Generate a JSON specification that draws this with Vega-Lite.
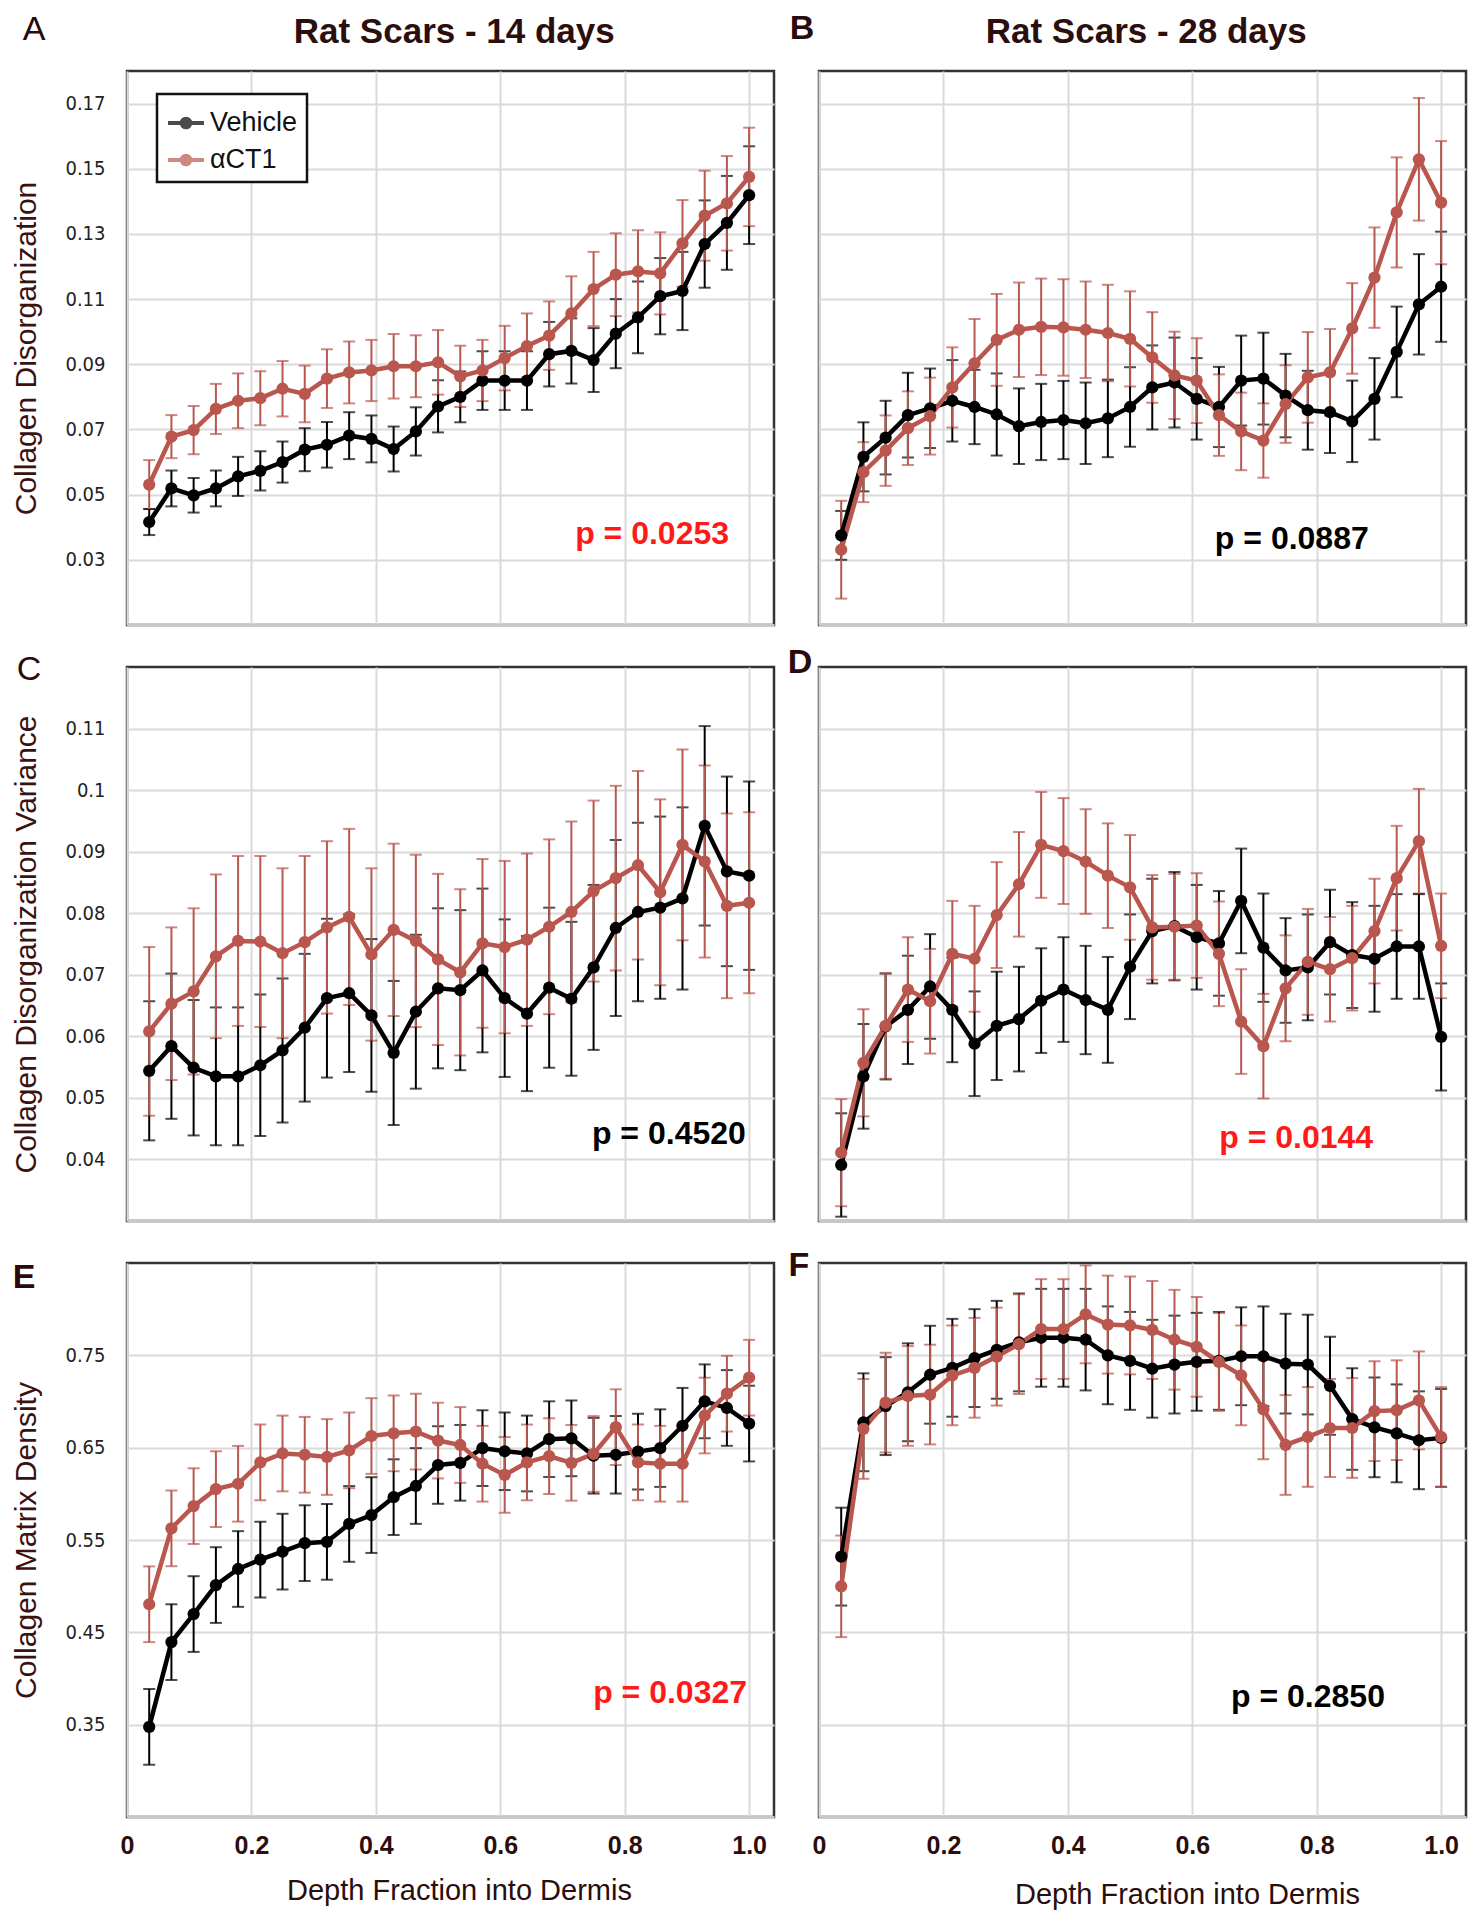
{
"$schema":"https://vega.github.io/schema/vega-lite/v6.json",
"background":"white",
"padding":{"left":10,"top":10,"right":5,"bottom":5},
"datasets":{
"A":[
{"d":0.0357,"g":"Vehicle","y":0.0416,"e":0.004},{"d":0.0714,"g":"Vehicle","y":0.0519,"e":0.0055},{"d":0.1071,"g":"Vehicle","y":0.0498,"e":0.0053},{"d":0.1429,"g":"Vehicle","y":0.0519,"e":0.0055},{"d":0.1786,"g":"Vehicle","y":0.0556,"e":0.006},{"d":0.2143,"g":"Vehicle","y":0.0573,"e":0.006},{"d":0.25,"g":"Vehicle","y":0.06,"e":0.0063},{"d":0.2857,"g":"Vehicle","y":0.0638,"e":0.0066},{"d":0.3214,"g":"Vehicle","y":0.0653,"e":0.007},{"d":0.3571,"g":"Vehicle","y":0.0681,"e":0.0072},{"d":0.3929,"g":"Vehicle","y":0.0671,"e":0.0072},{"d":0.4286,"g":"Vehicle","y":0.064,"e":0.0069},{"d":0.4643,"g":"Vehicle","y":0.0694,"e":0.0074},{"d":0.5,"g":"Vehicle","y":0.0771,"e":0.008},{"d":0.5357,"g":"Vehicle","y":0.08,"e":0.0078},{"d":0.5714,"g":"Vehicle","y":0.085,"e":0.009},{"d":0.6071,"g":"Vehicle","y":0.085,"e":0.009},{"d":0.6429,"g":"Vehicle","y":0.085,"e":0.009},{"d":0.6786,"g":"Vehicle","y":0.0931,"e":0.0099},{"d":0.7143,"g":"Vehicle","y":0.0941,"e":0.01},{"d":0.75,"g":"Vehicle","y":0.0913,"e":0.0098},{"d":0.7857,"g":"Vehicle","y":0.0994,"e":0.0106},{"d":0.8214,"g":"Vehicle","y":0.1044,"e":0.011},{"d":0.8571,"g":"Vehicle","y":0.1109,"e":0.0117},{"d":0.8929,"g":"Vehicle","y":0.1125,"e":0.012},{"d":0.9286,"g":"Vehicle","y":0.1269,"e":0.0134},{"d":0.9643,"g":"Vehicle","y":0.1334,"e":0.0144},{"d":1,"g":"Vehicle","y":0.1419,"e":0.015},
{"d":0.0357,"g":"αCT1","y":0.0531,"e":0.0075},{"d":0.0714,"g":"αCT1","y":0.0678,"e":0.0066},{"d":0.1071,"g":"αCT1","y":0.0698,"e":0.0074},{"d":0.1429,"g":"αCT1","y":0.0763,"e":0.0077},{"d":0.1786,"g":"αCT1","y":0.0788,"e":0.0084},{"d":0.2143,"g":"αCT1","y":0.0796,"e":0.0083},{"d":0.25,"g":"αCT1","y":0.0825,"e":0.0085},{"d":0.2857,"g":"αCT1","y":0.0809,"e":0.0087},{"d":0.3214,"g":"αCT1","y":0.0856,"e":0.009},{"d":0.3571,"g":"αCT1","y":0.0875,"e":0.0095},{"d":0.3929,"g":"αCT1","y":0.0881,"e":0.0094},{"d":0.4286,"g":"αCT1","y":0.0894,"e":0.0099},{"d":0.4643,"g":"αCT1","y":0.0894,"e":0.0095},{"d":0.5,"g":"αCT1","y":0.0906,"e":0.0099},{"d":0.5357,"g":"αCT1","y":0.0863,"e":0.0094},{"d":0.5714,"g":"αCT1","y":0.0881,"e":0.0094},{"d":0.6071,"g":"αCT1","y":0.0919,"e":0.0099},{"d":0.6429,"g":"αCT1","y":0.0956,"e":0.01},{"d":0.6786,"g":"αCT1","y":0.0988,"e":0.0105},{"d":0.7143,"g":"αCT1","y":0.1056,"e":0.0114},{"d":0.75,"g":"αCT1","y":0.1131,"e":0.0114},{"d":0.7857,"g":"αCT1","y":0.1175,"e":0.0127},{"d":0.8214,"g":"αCT1","y":0.1185,"e":0.0126},{"d":0.8571,"g":"αCT1","y":0.1179,"e":0.0126},{"d":0.8929,"g":"αCT1","y":0.1271,"e":0.0133},{"d":0.9286,"g":"αCT1","y":0.1356,"e":0.0138},{"d":0.9643,"g":"αCT1","y":0.1394,"e":0.0145},{"d":1,"g":"αCT1","y":0.1475,"e":0.0151}
],
"B":[
{"d":0.0357,"g":"Vehicle","y":0.0375,"e":0.0075},{"d":0.0714,"g":"Vehicle","y":0.0616,"e":0.0106},{"d":0.1071,"g":"Vehicle","y":0.0675,"e":0.0113},{"d":0.1429,"g":"Vehicle","y":0.0744,"e":0.013},{"d":0.1786,"g":"Vehicle","y":0.0765,"e":0.0122},{"d":0.2143,"g":"Vehicle","y":0.0788,"e":0.0125},{"d":0.25,"g":"Vehicle","y":0.0769,"e":0.0114},{"d":0.2857,"g":"Vehicle","y":0.0746,"e":0.0126},{"d":0.3214,"g":"Vehicle","y":0.071,"e":0.0116},{"d":0.3571,"g":"Vehicle","y":0.0723,"e":0.0117},{"d":0.3929,"g":"Vehicle","y":0.0729,"e":0.012},{"d":0.4286,"g":"Vehicle","y":0.0719,"e":0.0125},{"d":0.4643,"g":"Vehicle","y":0.0734,"e":0.0119},{"d":0.5,"g":"Vehicle","y":0.0769,"e":0.0122},{"d":0.5357,"g":"Vehicle","y":0.0829,"e":0.0129},{"d":0.5714,"g":"Vehicle","y":0.0844,"e":0.0138},{"d":0.6071,"g":"Vehicle","y":0.0794,"e":0.0125},{"d":0.6429,"g":"Vehicle","y":0.0769,"e":0.0123},{"d":0.6786,"g":"Vehicle","y":0.085,"e":0.0138},{"d":0.7143,"g":"Vehicle","y":0.0856,"e":0.0141},{"d":0.75,"g":"Vehicle","y":0.0804,"e":0.0128},{"d":0.7857,"g":"Vehicle","y":0.0759,"e":0.0121},{"d":0.8214,"g":"Vehicle","y":0.0753,"e":0.0125},{"d":0.8571,"g":"Vehicle","y":0.0725,"e":0.0125},{"d":0.8929,"g":"Vehicle","y":0.0794,"e":0.0125},{"d":0.9286,"g":"Vehicle","y":0.0938,"e":0.0139},{"d":0.9643,"g":"Vehicle","y":0.1084,"e":0.0154},{"d":1,"g":"Vehicle","y":0.1138,"e":0.0169},
{"d":0.0357,"g":"αCT1","y":0.0331,"e":0.015},{"d":0.0714,"g":"αCT1","y":0.0569,"e":0.0092},{"d":0.1071,"g":"αCT1","y":0.0635,"e":0.0108},{"d":0.1429,"g":"αCT1","y":0.0704,"e":0.0113},{"d":0.1786,"g":"αCT1","y":0.0741,"e":0.0118},{"d":0.2143,"g":"αCT1","y":0.0829,"e":0.0123},{"d":0.25,"g":"αCT1","y":0.0903,"e":0.0136},{"d":0.2857,"g":"αCT1","y":0.0975,"e":0.0141},{"d":0.3214,"g":"αCT1","y":0.1006,"e":0.0145},{"d":0.3571,"g":"αCT1","y":0.1015,"e":0.0148},{"d":0.3929,"g":"αCT1","y":0.1013,"e":0.0148},{"d":0.4286,"g":"αCT1","y":0.1006,"e":0.0148},{"d":0.4643,"g":"αCT1","y":0.0996,"e":0.0148},{"d":0.5,"g":"αCT1","y":0.0978,"e":0.0146},{"d":0.5357,"g":"αCT1","y":0.0921,"e":0.0139},{"d":0.5714,"g":"αCT1","y":0.0866,"e":0.0134},{"d":0.6071,"g":"αCT1","y":0.085,"e":0.013},{"d":0.6429,"g":"αCT1","y":0.0744,"e":0.0125},{"d":0.6786,"g":"αCT1","y":0.0694,"e":0.0119},{"d":0.7143,"g":"αCT1","y":0.0666,"e":0.0114},{"d":0.75,"g":"αCT1","y":0.0778,"e":0.0119},{"d":0.7857,"g":"αCT1","y":0.086,"e":0.0139},{"d":0.8214,"g":"αCT1","y":0.0875,"e":0.0133},{"d":0.8571,"g":"αCT1","y":0.101,"e":0.0139},{"d":0.8929,"g":"αCT1","y":0.1166,"e":0.0154},{"d":0.9286,"g":"αCT1","y":0.1366,"e":0.0169},{"d":0.9643,"g":"αCT1","y":0.1529,"e":0.0188},{"d":1,"g":"αCT1","y":0.1396,"e":0.0189}
],
"C":[
{"d":0.0357,"g":"Vehicle","y":0.0544,"e":0.0113},{"d":0.0714,"g":"Vehicle","y":0.0584,"e":0.0118},{"d":0.1071,"g":"Vehicle","y":0.0549,"e":0.011},{"d":0.1429,"g":"Vehicle","y":0.0535,"e":0.0112},{"d":0.1786,"g":"Vehicle","y":0.0535,"e":0.0112},{"d":0.2143,"g":"Vehicle","y":0.0553,"e":0.0115},{"d":0.25,"g":"Vehicle","y":0.0577,"e":0.0117},{"d":0.2857,"g":"Vehicle","y":0.0614,"e":0.012},{"d":0.3214,"g":"Vehicle","y":0.0662,"e":0.0129},{"d":0.3571,"g":"Vehicle","y":0.067,"e":0.0128},{"d":0.3929,"g":"Vehicle","y":0.0634,"e":0.0124},{"d":0.4286,"g":"Vehicle","y":0.0573,"e":0.0117},{"d":0.4643,"g":"Vehicle","y":0.064,"e":0.0125},{"d":0.5,"g":"Vehicle","y":0.0678,"e":0.013},{"d":0.5357,"g":"Vehicle","y":0.0675,"e":0.013},{"d":0.5714,"g":"Vehicle","y":0.0707,"e":0.0133},{"d":0.6071,"g":"Vehicle","y":0.0662,"e":0.0128},{"d":0.6429,"g":"Vehicle","y":0.0637,"e":0.0126},{"d":0.6786,"g":"Vehicle","y":0.0679,"e":0.013},{"d":0.7143,"g":"Vehicle","y":0.0661,"e":0.0125},{"d":0.75,"g":"Vehicle","y":0.0712,"e":0.0134},{"d":0.7857,"g":"Vehicle","y":0.0776,"e":0.0143},{"d":0.8214,"g":"Vehicle","y":0.0802,"e":0.0145},{"d":0.8571,"g":"Vehicle","y":0.0809,"e":0.0148},{"d":0.8929,"g":"Vehicle","y":0.0824,"e":0.0148},{"d":0.9286,"g":"Vehicle","y":0.0942,"e":0.0162},{"d":0.9643,"g":"Vehicle","y":0.0868,"e":0.0154},{"d":1,"g":"Vehicle","y":0.0861,"e":0.0153},
{"d":0.0357,"g":"αCT1","y":0.0608,"e":0.0137},{"d":0.0714,"g":"αCT1","y":0.0653,"e":0.0124},{"d":0.1071,"g":"αCT1","y":0.0673,"e":0.0135},{"d":0.1429,"g":"αCT1","y":0.073,"e":0.0133},{"d":0.1786,"g":"αCT1","y":0.0755,"e":0.0138},{"d":0.2143,"g":"αCT1","y":0.0754,"e":0.0139},{"d":0.25,"g":"αCT1","y":0.0735,"e":0.0138},{"d":0.2857,"g":"αCT1","y":0.0753,"e":0.014},{"d":0.3214,"g":"αCT1","y":0.0777,"e":0.014},{"d":0.3571,"g":"αCT1","y":0.0794,"e":0.0143},{"d":0.3929,"g":"αCT1","y":0.0733,"e":0.014},{"d":0.4286,"g":"αCT1","y":0.0773,"e":0.014},{"d":0.4643,"g":"αCT1","y":0.0755,"e":0.014},{"d":0.5,"g":"αCT1","y":0.0725,"e":0.0139},{"d":0.5357,"g":"αCT1","y":0.0704,"e":0.0135},{"d":0.5714,"g":"αCT1","y":0.0751,"e":0.0137},{"d":0.6071,"g":"αCT1","y":0.0745,"e":0.014},{"d":0.6429,"g":"αCT1","y":0.0757,"e":0.014},{"d":0.6786,"g":"αCT1","y":0.0778,"e":0.0142},{"d":0.7143,"g":"αCT1","y":0.0802,"e":0.0147},{"d":0.75,"g":"αCT1","y":0.0836,"e":0.0147},{"d":0.7857,"g":"αCT1","y":0.0857,"e":0.015},{"d":0.8214,"g":"αCT1","y":0.0878,"e":0.0153},{"d":0.8571,"g":"αCT1","y":0.0834,"e":0.0151},{"d":0.8929,"g":"αCT1","y":0.0911,"e":0.0155},{"d":0.9286,"g":"αCT1","y":0.0884,"e":0.0156},{"d":0.9643,"g":"αCT1","y":0.0812,"e":0.015},{"d":1,"g":"αCT1","y":0.0817,"e":0.0147}
],
"D":[
{"d":0.0357,"g":"Vehicle","y":0.0391,"e":0.0084},{"d":0.0714,"g":"Vehicle","y":0.0535,"e":0.0085},{"d":0.1071,"g":"Vehicle","y":0.0616,"e":0.0086},{"d":0.1429,"g":"Vehicle","y":0.0643,"e":0.0088},{"d":0.1786,"g":"Vehicle","y":0.0681,"e":0.0085},{"d":0.2143,"g":"Vehicle","y":0.0643,"e":0.0085},{"d":0.25,"g":"Vehicle","y":0.0588,"e":0.0085},{"d":0.2857,"g":"Vehicle","y":0.0617,"e":0.0088},{"d":0.3214,"g":"Vehicle","y":0.0628,"e":0.0085},{"d":0.3571,"g":"Vehicle","y":0.0658,"e":0.0085},{"d":0.3929,"g":"Vehicle","y":0.0676,"e":0.0085},{"d":0.4286,"g":"Vehicle","y":0.0659,"e":0.0088},{"d":0.4643,"g":"Vehicle","y":0.0643,"e":0.0086},{"d":0.5,"g":"Vehicle","y":0.0713,"e":0.0085},{"d":0.5357,"g":"Vehicle","y":0.0771,"e":0.0085},{"d":0.5714,"g":"Vehicle","y":0.0779,"e":0.0088},{"d":0.6071,"g":"Vehicle","y":0.0761,"e":0.0085},{"d":0.6429,"g":"Vehicle","y":0.0751,"e":0.0085},{"d":0.6786,"g":"Vehicle","y":0.082,"e":0.0085},{"d":0.7143,"g":"Vehicle","y":0.0744,"e":0.0088},{"d":0.75,"g":"Vehicle","y":0.0707,"e":0.0085},{"d":0.7857,"g":"Vehicle","y":0.0712,"e":0.0086},{"d":0.8214,"g":"Vehicle","y":0.0753,"e":0.0085},{"d":0.8571,"g":"Vehicle","y":0.0732,"e":0.0086},{"d":0.8929,"g":"Vehicle","y":0.0726,"e":0.0086},{"d":0.9286,"g":"Vehicle","y":0.0746,"e":0.0085},{"d":0.9643,"g":"Vehicle","y":0.0746,"e":0.0085},{"d":1,"g":"Vehicle","y":0.0599,"e":0.0087},
{"d":0.0357,"g":"αCT1","y":0.0411,"e":0.0087},{"d":0.0714,"g":"αCT1","y":0.0557,"e":0.0087},{"d":0.1071,"g":"αCT1","y":0.0617,"e":0.0086},{"d":0.1429,"g":"αCT1","y":0.0676,"e":0.0085},{"d":0.1786,"g":"αCT1","y":0.0657,"e":0.0085},{"d":0.2143,"g":"αCT1","y":0.0734,"e":0.0086},{"d":0.25,"g":"αCT1","y":0.0726,"e":0.0086},{"d":0.2857,"g":"αCT1","y":0.0797,"e":0.0086},{"d":0.3214,"g":"αCT1","y":0.0847,"e":0.0085},{"d":0.3571,"g":"αCT1","y":0.0911,"e":0.0086},{"d":0.3929,"g":"αCT1","y":0.0901,"e":0.0086},{"d":0.4286,"g":"αCT1","y":0.0884,"e":0.0085},{"d":0.4643,"g":"αCT1","y":0.0861,"e":0.0085},{"d":0.5,"g":"αCT1","y":0.0842,"e":0.0085},{"d":0.5357,"g":"αCT1","y":0.0777,"e":0.0085},{"d":0.5714,"g":"αCT1","y":0.0778,"e":0.0086},{"d":0.6071,"g":"αCT1","y":0.078,"e":0.0085},{"d":0.6429,"g":"αCT1","y":0.0734,"e":0.0085},{"d":0.6786,"g":"αCT1","y":0.0624,"e":0.0085},{"d":0.7143,"g":"αCT1","y":0.0584,"e":0.0085},{"d":0.75,"g":"αCT1","y":0.0678,"e":0.0086},{"d":0.7857,"g":"αCT1","y":0.0721,"e":0.0086},{"d":0.8214,"g":"αCT1","y":0.0709,"e":0.0085},{"d":0.8571,"g":"αCT1","y":0.0727,"e":0.0085},{"d":0.8929,"g":"αCT1","y":0.0771,"e":0.0085},{"d":0.9286,"g":"αCT1","y":0.0857,"e":0.0085},{"d":0.9643,"g":"αCT1","y":0.0917,"e":0.0085},{"d":1,"g":"αCT1","y":0.0747,"e":0.0085}
],
"E":[
{"d":0.0357,"g":"Vehicle","y":0.3476,"e":0.041},{"d":0.0714,"g":"Vehicle","y":0.4394,"e":0.041},{"d":0.1071,"g":"Vehicle","y":0.4698,"e":0.041},{"d":0.1429,"g":"Vehicle","y":0.5012,"e":0.041},{"d":0.1786,"g":"Vehicle","y":0.5186,"e":0.041},{"d":0.2143,"g":"Vehicle","y":0.5287,"e":0.041},{"d":0.25,"g":"Vehicle","y":0.5374,"e":0.041},{"d":0.2857,"g":"Vehicle","y":0.5466,"e":0.041},{"d":0.3214,"g":"Vehicle","y":0.548,"e":0.041},{"d":0.3571,"g":"Vehicle","y":0.5674,"e":0.041},{"d":0.3929,"g":"Vehicle","y":0.577,"e":0.041},{"d":0.4286,"g":"Vehicle","y":0.5964,"e":0.041},{"d":0.4643,"g":"Vehicle","y":0.6085,"e":0.041},{"d":0.5,"g":"Vehicle","y":0.6312,"e":0.042},{"d":0.5357,"g":"Vehicle","y":0.6336,"e":0.041},{"d":0.5714,"g":"Vehicle","y":0.6495,"e":0.041},{"d":0.6071,"g":"Vehicle","y":0.6461,"e":0.042},{"d":0.6429,"g":"Vehicle","y":0.6437,"e":0.041},{"d":0.6786,"g":"Vehicle","y":0.6592,"e":0.041},{"d":0.7143,"g":"Vehicle","y":0.6601,"e":0.041},{"d":0.75,"g":"Vehicle","y":0.6413,"e":0.041},{"d":0.7857,"g":"Vehicle","y":0.6423,"e":0.042},{"d":0.8214,"g":"Vehicle","y":0.6457,"e":0.041},{"d":0.8571,"g":"Vehicle","y":0.6495,"e":0.042},{"d":0.8929,"g":"Vehicle","y":0.6737,"e":0.041},{"d":0.9286,"g":"Vehicle","y":0.7002,"e":0.04},{"d":0.9643,"g":"Vehicle","y":0.693,"e":0.041},{"d":1,"g":"Vehicle","y":0.6761,"e":0.041},
{"d":0.0357,"g":"αCT1","y":0.4804,"e":0.041},{"d":0.0714,"g":"αCT1","y":0.5626,"e":0.041},{"d":0.1071,"g":"αCT1","y":0.5867,"e":0.041},{"d":0.1429,"g":"αCT1","y":0.6051,"e":0.041},{"d":0.1786,"g":"αCT1","y":0.6109,"e":0.041},{"d":0.2143,"g":"αCT1","y":0.634,"e":0.041},{"d":0.25,"g":"αCT1","y":0.6437,"e":0.041},{"d":0.2857,"g":"αCT1","y":0.6423,"e":0.041},{"d":0.3214,"g":"αCT1","y":0.6399,"e":0.041},{"d":0.3571,"g":"αCT1","y":0.6471,"e":0.041},{"d":0.3929,"g":"αCT1","y":0.6626,"e":0.041},{"d":0.4286,"g":"αCT1","y":0.6655,"e":0.041},{"d":0.4643,"g":"αCT1","y":0.6674,"e":0.041},{"d":0.5,"g":"αCT1","y":0.6577,"e":0.041},{"d":0.5357,"g":"αCT1","y":0.6529,"e":0.041},{"d":0.5714,"g":"αCT1","y":0.6326,"e":0.041},{"d":0.6071,"g":"αCT1","y":0.6205,"e":0.041},{"d":0.6429,"g":"αCT1","y":0.634,"e":0.041},{"d":0.6786,"g":"αCT1","y":0.6408,"e":0.041},{"d":0.7143,"g":"αCT1","y":0.6336,"e":0.041},{"d":0.75,"g":"αCT1","y":0.6432,"e":0.041},{"d":0.7857,"g":"αCT1","y":0.6722,"e":0.041},{"d":0.8214,"g":"αCT1","y":0.634,"e":0.041},{"d":0.8571,"g":"αCT1","y":0.6326,"e":0.041},{"d":0.8929,"g":"αCT1","y":0.6326,"e":0.041},{"d":0.9286,"g":"αCT1","y":0.6848,"e":0.041},{"d":0.9643,"g":"αCT1","y":0.7085,"e":0.041},{"d":1,"g":"αCT1","y":0.7258,"e":0.041}
],
"F":[
{"d":0.0357,"g":"Vehicle","y":0.532,"e":0.053},{"d":0.0714,"g":"Vehicle","y":0.6775,"e":0.053},{"d":0.1071,"g":"Vehicle","y":0.695,"e":0.053},{"d":0.1429,"g":"Vehicle","y":0.71,"e":0.053},{"d":0.1786,"g":"Vehicle","y":0.729,"e":0.053},{"d":0.2143,"g":"Vehicle","y":0.7365,"e":0.053},{"d":0.25,"g":"Vehicle","y":0.747,"e":0.053},{"d":0.2857,"g":"Vehicle","y":0.756,"e":0.053},{"d":0.3214,"g":"Vehicle","y":0.764,"e":0.053},{"d":0.3571,"g":"Vehicle","y":0.769,"e":0.053},{"d":0.3929,"g":"Vehicle","y":0.769,"e":0.053},{"d":0.4286,"g":"Vehicle","y":0.767,"e":0.055},{"d":0.4643,"g":"Vehicle","y":0.75,"e":0.053},{"d":0.5,"g":"Vehicle","y":0.744,"e":0.053},{"d":0.5357,"g":"Vehicle","y":0.7355,"e":0.053},{"d":0.5714,"g":"Vehicle","y":0.74,"e":0.053},{"d":0.6071,"g":"Vehicle","y":0.743,"e":0.053},{"d":0.6429,"g":"Vehicle","y":0.744,"e":0.053},{"d":0.6786,"g":"Vehicle","y":0.749,"e":0.053},{"d":0.7143,"g":"Vehicle","y":0.749,"e":0.054},{"d":0.75,"g":"Vehicle","y":0.741,"e":0.054},{"d":0.7857,"g":"Vehicle","y":0.74,"e":0.054},{"d":0.8214,"g":"Vehicle","y":0.717,"e":0.053},{"d":0.8571,"g":"Vehicle","y":0.681,"e":0.055},{"d":0.8929,"g":"Vehicle","y":0.672,"e":0.054},{"d":0.9286,"g":"Vehicle","y":0.6655,"e":0.053},{"d":0.9643,"g":"Vehicle","y":0.658,"e":0.053},{"d":1,"g":"Vehicle","y":0.6606,"e":0.053},
{"d":0.0357,"g":"αCT1","y":0.4998,"e":0.055},{"d":0.0714,"g":"αCT1","y":0.6703,"e":0.054},{"d":0.1071,"g":"αCT1","y":0.6988,"e":0.054},{"d":0.1429,"g":"αCT1","y":0.706,"e":0.054},{"d":0.1786,"g":"αCT1","y":0.7075,"e":0.054},{"d":0.2143,"g":"αCT1","y":0.7283,"e":0.054},{"d":0.25,"g":"αCT1","y":0.7365,"e":0.054},{"d":0.2857,"g":"αCT1","y":0.7486,"e":0.053},{"d":0.3214,"g":"αCT1","y":0.7621,"e":0.054},{"d":0.3571,"g":"αCT1","y":0.7785,"e":0.054},{"d":0.3929,"g":"αCT1","y":0.7785,"e":0.054},{"d":0.4286,"g":"αCT1","y":0.7944,"e":0.053},{"d":0.4643,"g":"αCT1","y":0.7833,"e":0.053},{"d":0.5,"g":"αCT1","y":0.7824,"e":0.053},{"d":0.5357,"g":"αCT1","y":0.7775,"e":0.053},{"d":0.5714,"g":"αCT1","y":0.7669,"e":0.054},{"d":0.6071,"g":"αCT1","y":0.7592,"e":0.054},{"d":0.6429,"g":"αCT1","y":0.7428,"e":0.053},{"d":0.6786,"g":"αCT1","y":0.7283,"e":0.054},{"d":0.7143,"g":"αCT1","y":0.6915,"e":0.054},{"d":0.75,"g":"αCT1","y":0.6529,"e":0.054},{"d":0.7857,"g":"αCT1","y":0.6616,"e":0.054},{"d":0.8214,"g":"αCT1","y":0.6713,"e":0.053},{"d":0.8571,"g":"αCT1","y":0.6713,"e":0.054},{"d":0.8929,"g":"αCT1","y":0.6896,"e":0.054},{"d":0.9286,"g":"αCT1","y":0.6906,"e":0.054},{"d":0.9643,"g":"αCT1","y":0.7012,"e":0.053},{"d":1,"g":"αCT1","y":0.6616,"e":0.054}
]
},
"columns":2,
"spacing":{"row":42,"column":45},
"bounds":"flush",
"resolve":{"scale":{"color":"independent"},"legend":{"color":"independent"}},
"concat":[
{
"width":647,"height":554,
"encoding":{
"x":{"field":"d","type":"quantitative","scale":{"domain":[0,1.04],"nice":false,"zero":false},"axis":{"values":[0,0.2,0.4,0.6,0.8,1],"labels":false,"title":null,"domain":true,"domainColor":"#c8c8c8","domainWidth":3}},
"y":{"field":"y","type":"quantitative","scale":{"domain":[0.01,0.18],"nice":false,"zero":false},"axis":{"values":[0.03,0.05,0.07,0.09,0.11,0.13,0.15,0.17],"format":".2f","labelFont":"Liberation Sans Narrow, DejaVu Sans Condensed, sans-serif","labelFontSize":20,"labelPadding":22,"title":"Collagen Disorganization","titleFontSize":30,"titlePadding":23}}
},
"layer":[
{"data":{"name":"A"},"mark":{"type":"errorbar","ticks":true,"thickness":2,"size":12},"encoding":{"yError":{"field":"e"},"color":{"field":"g","type":"nominal","scale":{"domain":["Vehicle","αCT1"],"range":["#000000","#b9564d"]},"legend":{"orient":"none","legendX":30,"legendY":23,"title":null,"symbolType":"M-1,0L1,0M0.24,0A0.24,0.24,0,1,1,-0.24,0A0.24,0.24,0,1,1,0.24,0","symbolSize":1296,"symbolStrokeWidth":4,"labelFontSize":27,"labelFont":"Liberation Sans","labelColor":"#111111","labelOffset":4,"strokeColor":"#111111","padding":9,"rowPadding":4,"fillColor":"#ffffff"}}}},
{"data":{"name":"A"},"mark":{"type":"line","strokeWidth":4.5},"encoding":{"color":{"field":"g","type":"nominal","scale":{"domain":["Vehicle","αCT1"],"range":["#000000","#b9564d"]},"legend":{"orient":"none","legendX":30,"legendY":23,"title":null,"symbolType":"M-1,0L1,0M0.24,0A0.24,0.24,0,1,1,-0.24,0A0.24,0.24,0,1,1,0.24,0","symbolSize":1296,"symbolStrokeWidth":4,"labelFontSize":27,"labelFont":"Liberation Sans","labelColor":"#111111","labelOffset":4,"strokeColor":"#111111","padding":9,"rowPadding":4,"fillColor":"#ffffff"}}}},
{"data":{"name":"A"},"mark":{"type":"point","filled":true,"size":150,"opacity":1},"encoding":{"color":{"field":"g","type":"nominal","scale":{"domain":["Vehicle","αCT1"],"range":["#000000","#b9564d"]},"legend":{"orient":"none","legendX":30,"legendY":23,"title":null,"symbolType":"M-1,0L1,0M0.24,0A0.24,0.24,0,1,1,-0.24,0A0.24,0.24,0,1,1,0.24,0","symbolSize":1296,"symbolStrokeWidth":4,"labelFontSize":27,"labelFont":"Liberation Sans","labelColor":"#111111","labelOffset":4,"strokeColor":"#111111","padding":9,"rowPadding":4,"fillColor":"#ffffff"}}}},
{"data":{"values":[{"d":-0.1495,"y":0.1926,"t":"A"}]},"mark":{"type":"text","fontSize":34,"fontWeight":"normal","color":"#2a0a0a","align":"center","baseline":"middle"},"encoding":{"text":{"field":"t"}}},
{"data":{"values":[{"d":0.526,"y":0.192,"t":"Rat Scars - 14 days"}]},"mark":{"type":"text","fontSize":35,"fontWeight":"bold","color":"#2b0f0f","align":"center","baseline":"middle"},"encoding":{"text":{"field":"t"}}},
{"data":{"values":[{"d":0.844,"y":0.0379,"t":"p = 0.0253"}]},"mark":{"type":"text","fontSize":32,"fontWeight":"bold","color":"#ff1a1a","align":"center","baseline":"middle"},"encoding":{"text":{"field":"t"}}}
]
},
{
"width":647,"height":554,
"encoding":{
"x":{"field":"d","type":"quantitative","scale":{"domain":[0,1.04],"nice":false,"zero":false},"axis":{"values":[0,0.2,0.4,0.6,0.8,1],"labels":false,"title":null,"domain":true,"domainColor":"#c8c8c8","domainWidth":3}},
"y":{"field":"y","type":"quantitative","scale":{"domain":[0.01,0.18],"nice":false,"zero":false},"axis":{"values":[0.03,0.05,0.07,0.09,0.11,0.13,0.15,0.17],"labels":false,"title":null}}
},
"layer":[
{"data":{"name":"B"},"mark":{"type":"errorbar","ticks":true,"thickness":2,"size":12},"encoding":{"yError":{"field":"e"},"color":{"field":"g","type":"nominal","scale":{"domain":["Vehicle","αCT1"],"range":["#000000","#b9564d"]},"legend":null}}},
{"data":{"name":"B"},"mark":{"type":"line","strokeWidth":4.5},"encoding":{"color":{"field":"g","type":"nominal","scale":{"domain":["Vehicle","αCT1"],"range":["#000000","#b9564d"]},"legend":null}}},
{"data":{"name":"B"},"mark":{"type":"point","filled":true,"size":150,"opacity":1},"encoding":{"color":{"field":"g","type":"nominal","scale":{"domain":["Vehicle","αCT1"],"range":["#000000","#b9564d"]},"legend":null}}},
{"data":{"values":[{"d":-0.0273,"y":0.1929,"t":"B"}]},"mark":{"type":"text","fontSize":34,"fontWeight":"bold","color":"#2a0a0a","align":"center","baseline":"middle"},"encoding":{"text":{"field":"t"}}},
{"data":{"values":[{"d":0.526,"y":0.192,"t":"Rat Scars - 28 days"}]},"mark":{"type":"text","fontSize":35,"fontWeight":"bold","color":"#2b0f0f","align":"center","baseline":"middle"},"encoding":{"text":{"field":"t"}}},
{"data":{"values":[{"d":0.76,"y":0.0364,"t":"p = 0.0887"}]},"mark":{"type":"text","fontSize":32,"fontWeight":"bold","color":"#000000","align":"center","baseline":"middle"},"encoding":{"text":{"field":"t"}}}
]
},
{
"width":647,"height":554,
"encoding":{
"x":{"field":"d","type":"quantitative","scale":{"domain":[0,1.04],"nice":false,"zero":false},"axis":{"values":[0,0.2,0.4,0.6,0.8,1],"labels":false,"title":null,"domain":true,"domainColor":"#c8c8c8","domainWidth":3}},
"y":{"field":"y","type":"quantitative","scale":{"domain":[0.03,0.12],"nice":false,"zero":false},"axis":{"values":[0.04,0.05,0.06,0.07,0.08,0.09,0.1,0.11],"format":".2~f","labelFont":"Liberation Sans Narrow, DejaVu Sans Condensed, sans-serif","labelFontSize":20,"labelPadding":22,"title":"Collagen Disorganization Variance","titleFontSize":30,"titlePadding":23}}
},
"layer":[
{"data":{"name":"C"},"mark":{"type":"errorbar","ticks":true,"thickness":2,"size":12},"encoding":{"yError":{"field":"e"},"color":{"field":"g","type":"nominal","scale":{"domain":["Vehicle","αCT1"],"range":["#000000","#b9564d"]},"legend":null}}},
{"data":{"name":"C"},"mark":{"type":"line","strokeWidth":4.5},"encoding":{"color":{"field":"g","type":"nominal","scale":{"domain":["Vehicle","αCT1"],"range":["#000000","#b9564d"]},"legend":null}}},
{"data":{"name":"C"},"mark":{"type":"point","filled":true,"size":150,"opacity":1},"encoding":{"color":{"field":"g","type":"nominal","scale":{"domain":["Vehicle","αCT1"],"range":["#000000","#b9564d"]},"legend":null}}},
{"data":{"values":[{"d":-0.1576,"y":0.1195,"t":"C"}]},"mark":{"type":"text","fontSize":34,"fontWeight":"normal","color":"#2a0a0a","align":"center","baseline":"middle"},"encoding":{"text":{"field":"t"}}},
{"data":{"values":[{"d":0.871,"y":0.0441,"t":"p = 0.4520"}]},"mark":{"type":"text","fontSize":32,"fontWeight":"bold","color":"#000000","align":"center","baseline":"middle"},"encoding":{"text":{"field":"t"}}}
]
},
{
"width":647,"height":554,
"encoding":{
"x":{"field":"d","type":"quantitative","scale":{"domain":[0,1.04],"nice":false,"zero":false},"axis":{"values":[0,0.2,0.4,0.6,0.8,1],"labels":false,"title":null,"domain":true,"domainColor":"#c8c8c8","domainWidth":3}},
"y":{"field":"y","type":"quantitative","scale":{"domain":[0.03,0.12],"nice":false,"zero":false},"axis":{"values":[0.04,0.05,0.06,0.07,0.08,0.09,0.1,0.11],"labels":false,"title":null}}
},
"layer":[
{"data":{"name":"D"},"mark":{"type":"errorbar","ticks":true,"thickness":2,"size":12},"encoding":{"yError":{"field":"e"},"color":{"field":"g","type":"nominal","scale":{"domain":["Vehicle","αCT1"],"range":["#000000","#b9564d"]},"legend":null}}},
{"data":{"name":"D"},"mark":{"type":"line","strokeWidth":4.5},"encoding":{"color":{"field":"g","type":"nominal","scale":{"domain":["Vehicle","αCT1"],"range":["#000000","#b9564d"]},"legend":null}}},
{"data":{"name":"D"},"mark":{"type":"point","filled":true,"size":150,"opacity":1},"encoding":{"color":{"field":"g","type":"nominal","scale":{"domain":["Vehicle","αCT1"],"range":["#000000","#b9564d"]},"legend":null}}},
{"data":{"values":[{"d":-0.0305,"y":0.1206,"t":"D"}]},"mark":{"type":"text","fontSize":34,"fontWeight":"bold","color":"#2a0a0a","align":"center","baseline":"middle"},"encoding":{"text":{"field":"t"}}},
{"data":{"values":[{"d":0.767,"y":0.0435,"t":"p = 0.0144"}]},"mark":{"type":"text","fontSize":32,"fontWeight":"bold","color":"#ff1a1a","align":"center","baseline":"middle"},"encoding":{"text":{"field":"t"}}}
]
},
{
"width":647,"height":554,
"encoding":{
"x":{"field":"d","type":"quantitative","scale":{"domain":[0,1.04],"nice":false,"zero":false},"axis":{"values":[0,0.2,0.4,0.6,0.8,1],"labelExpr":"datum.value == 0 ? '0' : format(datum.value, '.1f')","labelFlush":false,"labelFontSize":25,"labelFontWeight":"bold","labelColor":"#2a0d0d","labelPadding":16,"title":"Depth Fraction into Dermis","titleFontSize":29,"titleFontWeight":"normal","titleColor":"#2a0d0d","titlePadding":18,"titleX":332,"domain":true,"domainColor":"#c8c8c8","domainWidth":3}},
"y":{"field":"y","type":"quantitative","scale":{"domain":[0.25,0.85],"nice":false,"zero":false},"axis":{"values":[0.35,0.45,0.55,0.65,0.75],"format":".2f","labelFont":"Liberation Sans Narrow, DejaVu Sans Condensed, sans-serif","labelFontSize":20,"labelPadding":22,"title":"Collagen Matrix Density","titleFontSize":30,"titlePadding":23}}
},
"layer":[
{"data":{"name":"E"},"mark":{"type":"errorbar","ticks":true,"thickness":2,"size":12},"encoding":{"yError":{"field":"e"},"color":{"field":"g","type":"nominal","scale":{"domain":["Vehicle","αCT1"],"range":["#000000","#b9564d"]},"legend":null}}},
{"data":{"name":"E"},"mark":{"type":"line","strokeWidth":4.5},"encoding":{"color":{"field":"g","type":"nominal","scale":{"domain":["Vehicle","αCT1"],"range":["#000000","#b9564d"]},"legend":null}}},
{"data":{"name":"E"},"mark":{"type":"point","filled":true,"size":150,"opacity":1},"encoding":{"color":{"field":"g","type":"nominal","scale":{"domain":["Vehicle","αCT1"],"range":["#000000","#b9564d"]},"legend":null}}},
{"data":{"values":[{"d":-0.1656,"y":0.8338,"t":"E"}]},"mark":{"type":"text","fontSize":34,"fontWeight":"bold","color":"#2a0a0a","align":"center","baseline":"middle"},"encoding":{"text":{"field":"t"}}},
{"data":{"values":[{"d":0.873,"y":0.3843,"t":"p = 0.0327"}]},"mark":{"type":"text","fontSize":32,"fontWeight":"bold","color":"#ff1a1a","align":"center","baseline":"middle"},"encoding":{"text":{"field":"t"}}}
]
},
{
"width":647,"height":554,
"encoding":{
"x":{"field":"d","type":"quantitative","scale":{"domain":[0,1.04],"nice":false,"zero":false},"axis":{"values":[0,0.2,0.4,0.6,0.8,1],"labelExpr":"datum.value == 0 ? '0' : format(datum.value, '.1f')","labelFlush":false,"labelFontSize":25,"labelFontWeight":"bold","labelColor":"#2a0d0d","labelPadding":16,"title":"Depth Fraction into Dermis","titleFontSize":29,"titleFontWeight":"normal","titleColor":"#2a0d0d","titlePadding":22,"titleX":368,"domain":true,"domainColor":"#c8c8c8","domainWidth":3}},
"y":{"field":"y","type":"quantitative","scale":{"domain":[0.25,0.85],"nice":false,"zero":false},"axis":{"values":[0.35,0.45,0.55,0.65,0.75],"labels":false,"title":null}}
},
"layer":[
{"data":{"name":"F"},"mark":{"type":"errorbar","ticks":true,"thickness":2,"size":12},"encoding":{"yError":{"field":"e"},"color":{"field":"g","type":"nominal","scale":{"domain":["Vehicle","αCT1"],"range":["#000000","#b9564d"]},"legend":null}}},
{"data":{"name":"F"},"mark":{"type":"line","strokeWidth":4.5},"encoding":{"color":{"field":"g","type":"nominal","scale":{"domain":["Vehicle","αCT1"],"range":["#000000","#b9564d"]},"legend":null}}},
{"data":{"name":"F"},"mark":{"type":"point","filled":true,"size":150,"opacity":1},"encoding":{"color":{"field":"g","type":"nominal","scale":{"domain":["Vehicle","αCT1"],"range":["#000000","#b9564d"]},"legend":null}}},
{"data":{"values":[{"d":-0.0322,"y":0.8468,"t":"F"}]},"mark":{"type":"text","fontSize":34,"fontWeight":"bold","color":"#2a0a0a","align":"center","baseline":"middle"},"encoding":{"text":{"field":"t"}}},
{"data":{"values":[{"d":0.786,"y":0.38,"t":"p = 0.2850"}]},"mark":{"type":"text","fontSize":32,"fontWeight":"bold","color":"#000000","align":"center","baseline":"middle"},"encoding":{"text":{"field":"t"}}}
]
}
],
"config":{
"view":{"stroke":"#333333","strokeWidth":2.5},
"axis":{"grid":true,"gridColor":"#dadada","gridWidth":2,"ticks":false,"domain":false,"labelColor":"#222222","titleColor":"#3a1212","titleFont":"Liberation Sans","titleFontWeight":"normal","labelFont":"Liberation Sans"},
"legend":{"strokeWidth":2.5},
"text":{"font":"Liberation Sans"}
}
}
